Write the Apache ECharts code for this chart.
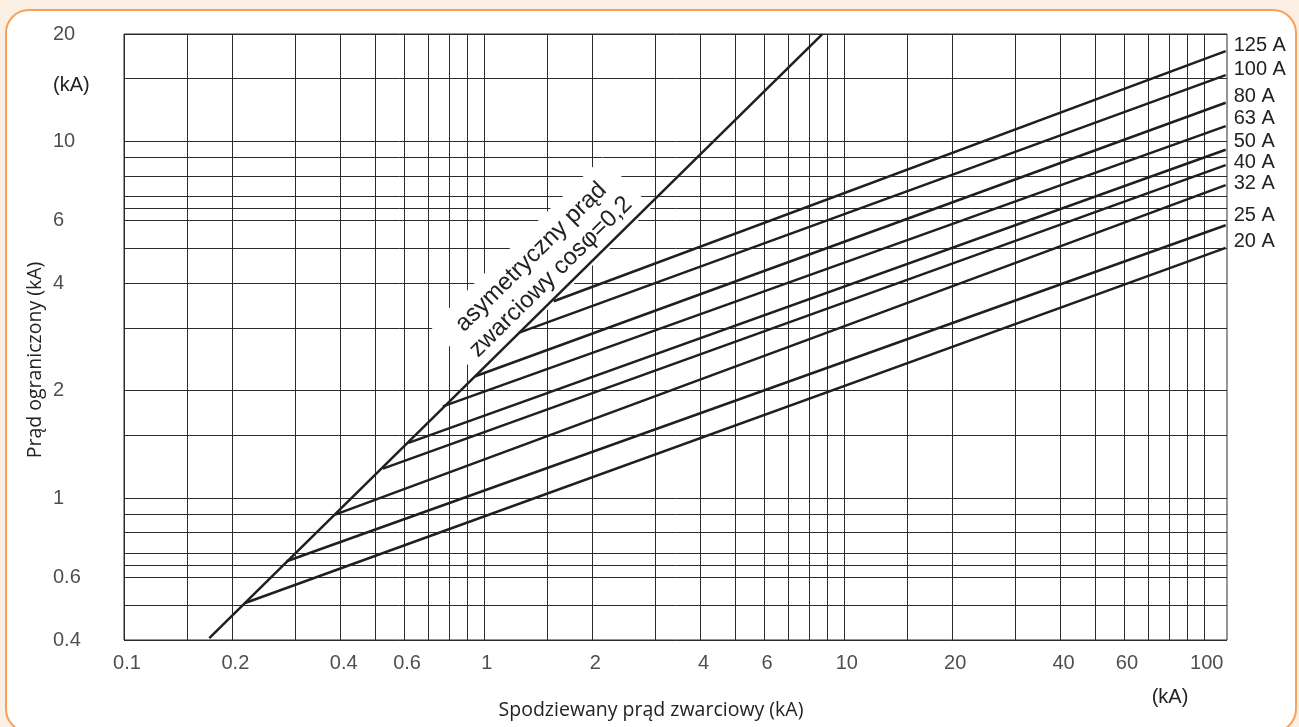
<!DOCTYPE html>
<html><head><meta charset="utf-8">
<script src="https://cdn.jsdelivr.net/npm/echarts@6/dist/echarts.min.js"></script>
<style>
html,body{margin:0;padding:0;width:1299px;height:727px;overflow:hidden;background:#FCEFE3;}
#frame{position:absolute;left:5px;top:9px;width:1292px;height:724px;border:2.5px solid #F8A05C;border-radius:24px;background:#fff;box-sizing:border-box;}
#chart{position:absolute;left:0;top:0;width:1299px;height:727px;}
</style></head><body><div id="frame"></div><div id="chart"></div>
<script>
// ---- data ----
const xGrid = [0.1,0.15,0.2,0.3,0.4,0.5,0.6,0.7,0.8,0.9,1,1.5,2,3,4,5,6,7,8,9,10,15,20,30,40,50,60,70,80,90,100];
const yGrid = [0.4,0.5,0.6,0.65,0.7,0.8,0.9,1,1.5,2,3,4,5,6,6.5,7,8,9,10,15,20];
const xTicks = [0.1,0.2,0.4,0.6,1,2,4,6,10,20,40,60,100];
const yTicks = [0.4,0.6,1,2,4,6,10,20];
const asymIk = [0.1726, 8.70];
const asymIp = [0.405, 19.95];
const fuseNames = ['20 A','25 A','32 A','40 A','50 A','63 A','80 A','100 A','125 A'];
const kneeIk = [0.217, 0.283, 0.386, 0.524, 0.617, 0.769, 0.946, 1.248, 1.562];
const kneeIp = [0.508, 0.665, 0.899, 1.209, 1.428, 1.808, 2.195, 2.906, 3.563];
const endIk = [115, 115, 115, 115, 115, 115, 115, 115, 115];
const endIp = [5.03, 5.82, 7.54, 8.58, 9.475, 11.03, 12.83, 15.34, 17.91];
const xTitle = 'Spodziewany prąd zwarciowy (kA)';
const yTitle = 'Prąd ograniczony (kA)';
const unitLabel = '(kA)';
const asymText = 'asymetryczny prąd\nzwarciowy cosφ=0,2';

// ---- styles ----
const X_MIN = 0.1, X_MAX = 116, Y_MIN = 0.4, Y_MAX = 20;
const INK = '#222';
const labelDy = [-6, -9.7, -1.7, -2.4, -8.6, -7.4, -6, -5.7, -5.7];
const tickFont = {fontFamily: 'Liberation Sans', fontSize: 20, color: INK};
const titleFont = '19.5px "Open Sans"';

const chart = echarts.init(document.getElementById('chart'), null, {renderer: 'canvas'});

const series = [];
series.push({
  type: 'scatter', name: 'xticks', silent: true, clip: false, z: 1,
  data: xTicks.map(v => [v, Y_MIN]),
  symbolSize: 1, itemStyle: {color: 'rgba(0,0,0,0)'},
  label: Object.assign({show: true, position: 'bottom', distance: 13, offset: [3, 0],
    formatter: p => String(p.value[0])}, tickFont),
  markLine: {
    silent: true, z: 1, animation: false, symbol: ['none', 'none'],
    label: {show: false},
    lineStyle: {color: '#2b2b2b', width: 1, type: 'solid'},
    emphasis: {disabled: true},
    data: xGrid.map(v => ({xAxis: v})).concat(yGrid.map(v => ({yAxis: v})))
  }
});
series.push({
  type: 'scatter', name: 'yticks', silent: true, clip: false, z: 1,
  data: yTicks.map(v => [X_MIN, v]),
  symbolSize: 1, itemStyle: {color: 'rgba(0,0,0,0)'},
  label: Object.assign({show: true, position: 'left', distance: 0, align: 'left', verticalAlign: 'middle', offset: [-70.5, 0],
    formatter: p => String(p.value[1])}, tickFont)
});
series.push({
  type: 'line', name: 'asym', z: 3, symbol: 'none', silent: true,
  data: asymIk.map((v, i) => [v, asymIp[i]]),
  lineStyle: {color: '#1f1f1f', width: 2.5}
});
fuseNames.forEach((n, i) => {
  series.push({
    type: 'line', name: n, z: 3, symbol: 'none', silent: true,
    data: [[kneeIk[i], kneeIp[i]], [endIk[i], endIp[i]]],
    lineStyle: {color: '#1f1f1f', width: 2.5},
    endLabel: Object.assign({show: true, formatter: '{a}', distance: 8, offset: [0, labelDy[i]]}, tickFont)
  });
});

chart.setOption({
  animation: false,
  grid: {left: 124, right: 72, top: 34, bottom: 87, show: true, borderColor: '#2b2b2b', borderWidth: 1, backgroundColor: 'transparent'},
  xAxis: {type: 'log', logBase: 10, min: X_MIN, max: X_MAX,
    axisLine: {show: false}, axisTick: {show: false}, axisLabel: {show: false}, splitLine: {show: false}, minorSplitLine: {show: false}},
  yAxis: {type: 'log', logBase: 10, min: Y_MIN, max: Y_MAX,
    axisLine: {show: false}, axisTick: {show: false}, axisLabel: {show: false}, splitLine: {show: false}, minorSplitLine: {show: false}},
  series: series,
  graphic: [
    {type: 'text', x: 541, y: 267, rotation: 44.56 * Math.PI / 180, z: 2, silent: true,
      style: {text: asymText, font: '24px "Liberation Sans"', fill: INK, align: 'center', verticalAlign: 'middle',
        lineHeight: 28, backgroundColor: '#fff', padding: [7, 12]}},
    {type: 'text', x: 53, y: 85, z: 4, silent: true,
      style: {text: unitLabel, font: '20px "Liberation Sans"', fill: INK, align: 'left', verticalAlign: 'middle'}},
    {type: 'text', x: 1170, y: 697, z: 4, silent: true,
      style: {text: unitLabel, font: '20px "Liberation Sans"', fill: INK, align: 'center', verticalAlign: 'middle'}},
    {type: 'text', x: 651, y: 710, z: 4, silent: true,
      style: {text: xTitle, font: titleFont, fill: INK, align: 'center', verticalAlign: 'middle'}},
    {type: 'text', x: 35, y: 360, rotation: Math.PI / 2, z: 4, silent: true,
      style: {text: yTitle, font: titleFont, fill: INK, align: 'center', verticalAlign: 'middle'}}
  ]
});
</script></body></html>
